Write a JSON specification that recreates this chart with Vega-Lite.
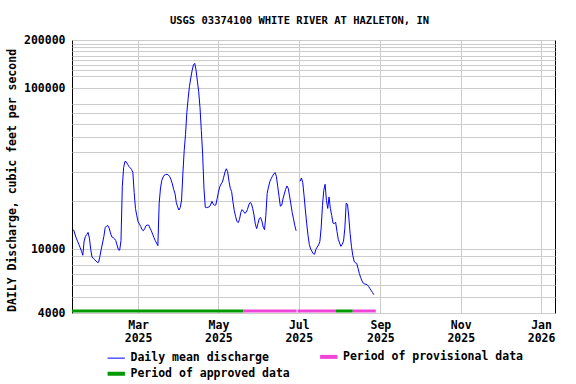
{
"$schema": "https://vega.github.io/schema/vega-lite/v6.json",
"width": 483, "height": 273,
"autosize": {"type": "none"},
"padding": {"left": 72, "top": 40, "right": 21, "bottom": 71},
"background": "white",
"title": {"text": "USGS 03374100 WHITE RIVER AT HAZLETON, IN", "font": "DejaVu Sans Mono", "fontSize": 10.5, "fontWeight": "bold", "color": "black", "anchor": "middle", "dx": -14, "offset": 8},
"config": {"view": {"stroke": "black", "strokeWidth": 1}, "font": "DejaVu Sans Mono"},
"datasets": {
"periods": [
{"start": "2025-01-09T19:00:00Z", "end": "2025-05-20T00:00:00Z", "series": "Period of approved data"},
{"start": "2025-05-20T00:00:00Z", "end": "2025-06-29T08:00:00Z", "series": "Period of provisional data"},
{"start": "2025-06-30T04:00:00Z", "end": "2025-07-29T06:00:00Z", "series": "Period of provisional data"},
{"start": "2025-07-29T06:00:00Z", "end": "2025-08-11T00:00:00Z", "series": "Period of approved data"},
{"start": "2025-08-11T00:00:00Z", "end": "2025-08-28T12:00:00Z", "series": "Period of provisional data"}
],
"flow": [
{"date":"2025-01-11","cfs":13200,"seg":1,"series":"Daily mean discharge"},{"date":"2025-01-12","cfs":12400,"seg":1,"series":"Daily mean discharge"},{"date":"2025-01-13","cfs":11700,"seg":1,"series":"Daily mean discharge"},{"date":"2025-01-14","cfs":11200,"seg":1,"series":"Daily mean discharge"},{"date":"2025-01-15","cfs":10700,"seg":1,"series":"Daily mean discharge"},{"date":"2025-01-16","cfs":10200,"seg":1,"series":"Daily mean discharge"},{"date":"2025-01-17","cfs":9690,"seg":1,"series":"Daily mean discharge"},{"date":"2025-01-18","cfs":9150,"seg":1,"series":"Daily mean discharge"},{"date":"2025-01-19","cfs":11200,"seg":1,"series":"Daily mean discharge"},{"date":"2025-01-20","cfs":12000,"seg":1,"series":"Daily mean discharge"},
{"date":"2025-01-21","cfs":12300,"seg":1,"series":"Daily mean discharge"},{"date":"2025-01-22","cfs":12700,"seg":1,"series":"Daily mean discharge"},{"date":"2025-01-23","cfs":11700,"seg":1,"series":"Daily mean discharge"},{"date":"2025-01-24","cfs":9970,"seg":1,"series":"Daily mean discharge"},{"date":"2025-01-25","cfs":8890,"seg":1,"series":"Daily mean discharge"},{"date":"2025-01-26","cfs":8770,"seg":1,"series":"Daily mean discharge"},{"date":"2025-01-27","cfs":8580,"seg":1,"series":"Daily mean discharge"},{"date":"2025-01-28","cfs":8430,"seg":1,"series":"Daily mean discharge"},{"date":"2025-01-29","cfs":8260,"seg":1,"series":"Daily mean discharge"},{"date":"2025-01-30","cfs":8280,"seg":1,"series":"Daily mean discharge"},
{"date":"2025-01-31","cfs":9020,"seg":1,"series":"Daily mean discharge"},{"date":"2025-02-01","cfs":9970,"seg":1,"series":"Daily mean discharge"},{"date":"2025-02-02","cfs":10900,"seg":1,"series":"Daily mean discharge"},{"date":"2025-02-03","cfs":12000,"seg":1,"series":"Daily mean discharge"},{"date":"2025-02-04","cfs":13600,"seg":1,"series":"Daily mean discharge"},{"date":"2025-02-05","cfs":13900,"seg":1,"series":"Daily mean discharge"},{"date":"2025-02-06","cfs":14000,"seg":1,"series":"Daily mean discharge"},{"date":"2025-02-07","cfs":13500,"seg":1,"series":"Daily mean discharge"},{"date":"2025-02-08","cfs":12600,"seg":1,"series":"Daily mean discharge"},{"date":"2025-02-09","cfs":11900,"seg":1,"series":"Daily mean discharge"},
{"date":"2025-02-10","cfs":11800,"seg":1,"series":"Daily mean discharge"},{"date":"2025-02-11","cfs":11600,"seg":1,"series":"Daily mean discharge"},{"date":"2025-02-12","cfs":11300,"seg":1,"series":"Daily mean discharge"},{"date":"2025-02-13","cfs":10600,"seg":1,"series":"Daily mean discharge"},{"date":"2025-02-14","cfs":9900,"seg":1,"series":"Daily mean discharge"},{"date":"2025-02-15","cfs":9830,"seg":1,"series":"Daily mean discharge"},{"date":"2025-02-16","cfs":11300,"seg":1,"series":"Daily mean discharge"},{"date":"2025-02-17","cfs":24600,"seg":1,"series":"Daily mean discharge"},{"date":"2025-02-18","cfs":32200,"seg":1,"series":"Daily mean discharge"},{"date":"2025-02-19","cfs":35100,"seg":1,"series":"Daily mean discharge"},
{"date":"2025-02-20","cfs":34900,"seg":1,"series":"Daily mean discharge"},{"date":"2025-02-21","cfs":33700,"seg":1,"series":"Daily mean discharge"},{"date":"2025-02-22","cfs":32700,"seg":1,"series":"Daily mean discharge"},{"date":"2025-02-23","cfs":32000,"seg":1,"series":"Daily mean discharge"},{"date":"2025-02-24","cfs":31300,"seg":1,"series":"Daily mean discharge"},{"date":"2025-02-25","cfs":30000,"seg":1,"series":"Daily mean discharge"},{"date":"2025-02-26","cfs":22500,"seg":1,"series":"Daily mean discharge"},{"date":"2025-02-27","cfs":17900,"seg":1,"series":"Daily mean discharge"},{"date":"2025-02-28","cfs":16100,"seg":1,"series":"Daily mean discharge"},{"date":"2025-03-01","cfs":14800,"seg":1,"series":"Daily mean discharge"},
{"date":"2025-03-02","cfs":14300,"seg":1,"series":"Daily mean discharge"},{"date":"2025-03-03","cfs":13800,"seg":1,"series":"Daily mean discharge"},{"date":"2025-03-04","cfs":13200,"seg":1,"series":"Daily mean discharge"},{"date":"2025-03-05","cfs":13000,"seg":1,"series":"Daily mean discharge"},{"date":"2025-03-06","cfs":13400,"seg":1,"series":"Daily mean discharge"},{"date":"2025-03-07","cfs":14000,"seg":1,"series":"Daily mean discharge"},{"date":"2025-03-08","cfs":14100,"seg":1,"series":"Daily mean discharge"},{"date":"2025-03-09","cfs":14100,"seg":1,"series":"Daily mean discharge"},{"date":"2025-03-10","cfs":13500,"seg":1,"series":"Daily mean discharge"},{"date":"2025-03-11","cfs":13000,"seg":1,"series":"Daily mean discharge"},
{"date":"2025-03-12","cfs":12400,"seg":1,"series":"Daily mean discharge"},{"date":"2025-03-13","cfs":11800,"seg":1,"series":"Daily mean discharge"},{"date":"2025-03-14","cfs":11300,"seg":1,"series":"Daily mean discharge"},{"date":"2025-03-15","cfs":10900,"seg":1,"series":"Daily mean discharge"},{"date":"2025-03-16","cfs":10500,"seg":1,"series":"Daily mean discharge"},{"date":"2025-03-17","cfs":19300,"seg":1,"series":"Daily mean discharge"},{"date":"2025-03-18","cfs":24000,"seg":1,"series":"Daily mean discharge"},{"date":"2025-03-19","cfs":26800,"seg":1,"series":"Daily mean discharge"},{"date":"2025-03-20","cfs":28100,"seg":1,"series":"Daily mean discharge"},{"date":"2025-03-21","cfs":28900,"seg":1,"series":"Daily mean discharge"},
{"date":"2025-03-22","cfs":29100,"seg":1,"series":"Daily mean discharge"},{"date":"2025-03-23","cfs":29200,"seg":1,"series":"Daily mean discharge"},{"date":"2025-03-24","cfs":28900,"seg":1,"series":"Daily mean discharge"},{"date":"2025-03-25","cfs":28200,"seg":1,"series":"Daily mean discharge"},{"date":"2025-03-26","cfs":27000,"seg":1,"series":"Daily mean discharge"},{"date":"2025-03-27","cfs":25500,"seg":1,"series":"Daily mean discharge"},{"date":"2025-03-28","cfs":23500,"seg":1,"series":"Daily mean discharge"},{"date":"2025-03-29","cfs":22200,"seg":1,"series":"Daily mean discharge"},{"date":"2025-03-30","cfs":19500,"seg":1,"series":"Daily mean discharge"},{"date":"2025-03-31","cfs":18300,"seg":1,"series":"Daily mean discharge"},
{"date":"2025-04-01","cfs":17500,"seg":1,"series":"Daily mean discharge"},{"date":"2025-04-02","cfs":18100,"seg":1,"series":"Daily mean discharge"},{"date":"2025-04-03","cfs":20200,"seg":1,"series":"Daily mean discharge"},{"date":"2025-04-04","cfs":29600,"seg":1,"series":"Daily mean discharge"},{"date":"2025-04-05","cfs":41100,"seg":1,"series":"Daily mean discharge"},{"date":"2025-04-06","cfs":51700,"seg":1,"series":"Daily mean discharge"},{"date":"2025-04-07","cfs":70800,"seg":1,"series":"Daily mean discharge"},{"date":"2025-04-08","cfs":86600,"seg":1,"series":"Daily mean discharge"},{"date":"2025-04-09","cfs":103000,"seg":1,"series":"Daily mean discharge"},{"date":"2025-04-10","cfs":116000,"seg":1,"series":"Daily mean discharge"},
{"date":"2025-04-11","cfs":129000,"seg":1,"series":"Daily mean discharge"},{"date":"2025-04-12","cfs":140000,"seg":1,"series":"Daily mean discharge"},{"date":"2025-04-13","cfs":143000,"seg":1,"series":"Daily mean discharge"},{"date":"2025-04-14","cfs":130000,"seg":1,"series":"Daily mean discharge"},{"date":"2025-04-15","cfs":111000,"seg":1,"series":"Daily mean discharge"},{"date":"2025-04-16","cfs":95300,"seg":1,"series":"Daily mean discharge"},{"date":"2025-04-17","cfs":75800,"seg":1,"series":"Daily mean discharge"},{"date":"2025-04-18","cfs":54700,"seg":1,"series":"Daily mean discharge"},{"date":"2025-04-19","cfs":39000,"seg":1,"series":"Daily mean discharge"},{"date":"2025-04-20","cfs":23900,"seg":1,"series":"Daily mean discharge"},
{"date":"2025-04-21","cfs":18200,"seg":1,"series":"Daily mean discharge"},{"date":"2025-04-22","cfs":18100,"seg":1,"series":"Daily mean discharge"},{"date":"2025-04-23","cfs":18200,"seg":1,"series":"Daily mean discharge"},{"date":"2025-04-24","cfs":18300,"seg":1,"series":"Daily mean discharge"},{"date":"2025-04-25","cfs":18800,"seg":1,"series":"Daily mean discharge"},{"date":"2025-04-26","cfs":19800,"seg":1,"series":"Daily mean discharge"},{"date":"2025-04-27","cfs":19100,"seg":1,"series":"Daily mean discharge"},{"date":"2025-04-28","cfs":18700,"seg":1,"series":"Daily mean discharge"},{"date":"2025-04-29","cfs":18800,"seg":1,"series":"Daily mean discharge"},{"date":"2025-04-30","cfs":20600,"seg":1,"series":"Daily mean discharge"},
{"date":"2025-05-01","cfs":22600,"seg":1,"series":"Daily mean discharge"},{"date":"2025-05-02","cfs":24400,"seg":1,"series":"Daily mean discharge"},{"date":"2025-05-03","cfs":25400,"seg":1,"series":"Daily mean discharge"},{"date":"2025-05-04","cfs":26100,"seg":1,"series":"Daily mean discharge"},{"date":"2025-05-05","cfs":28000,"seg":1,"series":"Daily mean discharge"},{"date":"2025-05-06","cfs":30200,"seg":1,"series":"Daily mean discharge"},{"date":"2025-05-07","cfs":31600,"seg":1,"series":"Daily mean discharge"},{"date":"2025-05-08","cfs":30300,"seg":1,"series":"Daily mean discharge"},{"date":"2025-05-09","cfs":26400,"seg":1,"series":"Daily mean discharge"},{"date":"2025-05-10","cfs":23900,"seg":1,"series":"Daily mean discharge"},
{"date":"2025-05-11","cfs":22800,"seg":1,"series":"Daily mean discharge"},{"date":"2025-05-12","cfs":19700,"seg":1,"series":"Daily mean discharge"},{"date":"2025-05-13","cfs":17400,"seg":1,"series":"Daily mean discharge"},{"date":"2025-05-14","cfs":16000,"seg":1,"series":"Daily mean discharge"},{"date":"2025-05-15","cfs":14900,"seg":1,"series":"Daily mean discharge"},{"date":"2025-05-16","cfs":14600,"seg":1,"series":"Daily mean discharge"},{"date":"2025-05-17","cfs":15300,"seg":1,"series":"Daily mean discharge"},{"date":"2025-05-18","cfs":16900,"seg":1,"series":"Daily mean discharge"},{"date":"2025-05-19","cfs":17600,"seg":1,"series":"Daily mean discharge"},{"date":"2025-05-20","cfs":17200,"seg":1,"series":"Daily mean discharge"},
{"date":"2025-05-21","cfs":16700,"seg":1,"series":"Daily mean discharge"},{"date":"2025-05-22","cfs":16900,"seg":1,"series":"Daily mean discharge"},{"date":"2025-05-23","cfs":17600,"seg":1,"series":"Daily mean discharge"},{"date":"2025-05-24","cfs":18800,"seg":1,"series":"Daily mean discharge"},{"date":"2025-05-25","cfs":19500,"seg":1,"series":"Daily mean discharge"},{"date":"2025-05-26","cfs":19200,"seg":1,"series":"Daily mean discharge"},{"date":"2025-05-27","cfs":17900,"seg":1,"series":"Daily mean discharge"},{"date":"2025-05-28","cfs":16300,"seg":1,"series":"Daily mean discharge"},{"date":"2025-05-29","cfs":14300,"seg":1,"series":"Daily mean discharge"},{"date":"2025-05-30","cfs":13400,"seg":1,"series":"Daily mean discharge"},
{"date":"2025-05-31","cfs":14400,"seg":1,"series":"Daily mean discharge"},{"date":"2025-06-01","cfs":15500,"seg":1,"series":"Daily mean discharge"},{"date":"2025-06-02","cfs":15700,"seg":1,"series":"Daily mean discharge"},{"date":"2025-06-03","cfs":14900,"seg":1,"series":"Daily mean discharge"},{"date":"2025-06-04","cfs":13700,"seg":1,"series":"Daily mean discharge"},{"date":"2025-06-05","cfs":13200,"seg":1,"series":"Daily mean discharge"},{"date":"2025-06-06","cfs":16200,"seg":1,"series":"Daily mean discharge"},{"date":"2025-06-07","cfs":22200,"seg":1,"series":"Daily mean discharge"},{"date":"2025-06-08","cfs":24300,"seg":1,"series":"Daily mean discharge"},{"date":"2025-06-09","cfs":26200,"seg":1,"series":"Daily mean discharge"},
{"date":"2025-06-10","cfs":27400,"seg":1,"series":"Daily mean discharge"},{"date":"2025-06-11","cfs":28400,"seg":1,"series":"Daily mean discharge"},{"date":"2025-06-12","cfs":29300,"seg":1,"series":"Daily mean discharge"},{"date":"2025-06-13","cfs":29900,"seg":1,"series":"Daily mean discharge"},{"date":"2025-06-14","cfs":28300,"seg":1,"series":"Daily mean discharge"},{"date":"2025-06-15","cfs":24600,"seg":1,"series":"Daily mean discharge"},{"date":"2025-06-16","cfs":21300,"seg":1,"series":"Daily mean discharge"},{"date":"2025-06-17","cfs":18500,"seg":1,"series":"Daily mean discharge"},{"date":"2025-06-18","cfs":18700,"seg":1,"series":"Daily mean discharge"},{"date":"2025-06-19","cfs":20500,"seg":1,"series":"Daily mean discharge"},
{"date":"2025-06-20","cfs":22000,"seg":1,"series":"Daily mean discharge"},{"date":"2025-06-21","cfs":23500,"seg":1,"series":"Daily mean discharge"},{"date":"2025-06-22","cfs":24700,"seg":1,"series":"Daily mean discharge"},{"date":"2025-06-23","cfs":23900,"seg":1,"series":"Daily mean discharge"},{"date":"2025-06-24","cfs":21400,"seg":1,"series":"Daily mean discharge"},{"date":"2025-06-25","cfs":19100,"seg":1,"series":"Daily mean discharge"},{"date":"2025-06-26","cfs":16900,"seg":1,"series":"Daily mean discharge"},{"date":"2025-06-27","cfs":15400,"seg":1,"series":"Daily mean discharge"},{"date":"2025-06-28","cfs":14000,"seg":1,"series":"Daily mean discharge"},{"date":"2025-06-29","cfs":13000,"seg":1,"series":"Daily mean discharge"},
{"date":"2025-07-02","cfs":26400,"seg":2,"series":"Daily mean discharge"},{"date":"2025-07-03","cfs":27700,"seg":2,"series":"Daily mean discharge"},{"date":"2025-07-04","cfs":26000,"seg":2,"series":"Daily mean discharge"},{"date":"2025-07-05","cfs":21600,"seg":2,"series":"Daily mean discharge"},{"date":"2025-07-06","cfs":17500,"seg":2,"series":"Daily mean discharge"},{"date":"2025-07-07","cfs":14500,"seg":2,"series":"Daily mean discharge"},{"date":"2025-07-08","cfs":12200,"seg":2,"series":"Daily mean discharge"},{"date":"2025-07-09","cfs":10700,"seg":2,"series":"Daily mean discharge"},{"date":"2025-07-10","cfs":10000,"seg":2,"series":"Daily mean discharge"},{"date":"2025-07-11","cfs":9700,"seg":2,"series":"Daily mean discharge"},
{"date":"2025-07-12","cfs":9360,"seg":2,"series":"Daily mean discharge"},{"date":"2025-07-13","cfs":9280,"seg":2,"series":"Daily mean discharge"},{"date":"2025-07-14","cfs":9960,"seg":2,"series":"Daily mean discharge"},{"date":"2025-07-15","cfs":10300,"seg":2,"series":"Daily mean discharge"},{"date":"2025-07-16","cfs":10600,"seg":2,"series":"Daily mean discharge"},{"date":"2025-07-17","cfs":11100,"seg":2,"series":"Daily mean discharge"},{"date":"2025-07-18","cfs":13500,"seg":2,"series":"Daily mean discharge"},{"date":"2025-07-19","cfs":18700,"seg":2,"series":"Daily mean discharge"},{"date":"2025-07-20","cfs":23200,"seg":2,"series":"Daily mean discharge"},{"date":"2025-07-21","cfs":25300,"seg":2,"series":"Daily mean discharge"},
{"date":"2025-07-22","cfs":20100,"seg":2,"series":"Daily mean discharge"},{"date":"2025-07-23","cfs":17900,"seg":2,"series":"Daily mean discharge"},{"date":"2025-07-24","cfs":21100,"seg":2,"series":"Daily mean discharge"},{"date":"2025-07-25","cfs":17900,"seg":2,"series":"Daily mean discharge"},{"date":"2025-07-26","cfs":16200,"seg":2,"series":"Daily mean discharge"},{"date":"2025-07-27","cfs":14500,"seg":2,"series":"Daily mean discharge"},{"date":"2025-07-28","cfs":14400,"seg":2,"series":"Daily mean discharge"},{"date":"2025-07-29","cfs":14700,"seg":2,"series":"Daily mean discharge"},{"date":"2025-07-30","cfs":12900,"seg":2,"series":"Daily mean discharge"},{"date":"2025-07-31","cfs":11500,"seg":2,"series":"Daily mean discharge"},
{"date":"2025-08-01","cfs":10900,"seg":2,"series":"Daily mean discharge"},{"date":"2025-08-02","cfs":10400,"seg":2,"series":"Daily mean discharge"},{"date":"2025-08-03","cfs":10700,"seg":2,"series":"Daily mean discharge"},{"date":"2025-08-04","cfs":11200,"seg":2,"series":"Daily mean discharge"},{"date":"2025-08-05","cfs":13500,"seg":2,"series":"Daily mean discharge"},{"date":"2025-08-06","cfs":19300,"seg":2,"series":"Daily mean discharge"},{"date":"2025-08-07","cfs":19000,"seg":2,"series":"Daily mean discharge"},{"date":"2025-08-08","cfs":15800,"seg":2,"series":"Daily mean discharge"},{"date":"2025-08-09","cfs":12500,"seg":2,"series":"Daily mean discharge"},{"date":"2025-08-10","cfs":10400,"seg":2,"series":"Daily mean discharge"},
{"date":"2025-08-11","cfs":9150,"seg":2,"series":"Daily mean discharge"},{"date":"2025-08-12","cfs":8420,"seg":2,"series":"Daily mean discharge"},{"date":"2025-08-13","cfs":8200,"seg":2,"series":"Daily mean discharge"},{"date":"2025-08-14","cfs":8140,"seg":2,"series":"Daily mean discharge"},{"date":"2025-08-15","cfs":7600,"seg":2,"series":"Daily mean discharge"},{"date":"2025-08-16","cfs":7040,"seg":2,"series":"Daily mean discharge"},{"date":"2025-08-17","cfs":6650,"seg":2,"series":"Daily mean discharge"},{"date":"2025-08-18","cfs":6330,"seg":2,"series":"Daily mean discharge"},{"date":"2025-08-19","cfs":6140,"seg":2,"series":"Daily mean discharge"},{"date":"2025-08-20","cfs":6070,"seg":2,"series":"Daily mean discharge"},
{"date":"2025-08-21","cfs":6040,"seg":2,"series":"Daily mean discharge"},{"date":"2025-08-22","cfs":5990,"seg":2,"series":"Daily mean discharge"},{"date":"2025-08-23","cfs":5860,"seg":2,"series":"Daily mean discharge"},{"date":"2025-08-24","cfs":5670,"seg":2,"series":"Daily mean discharge"},{"date":"2025-08-25","cfs":5520,"seg":2,"series":"Daily mean discharge"},{"date":"2025-08-26","cfs":5370,"seg":2,"series":"Daily mean discharge"},{"date":"2025-08-27","cfs":5200,"seg":2,"series":"Daily mean discharge"}
]
},
"layer": [
{
"data": {"name": "periods"},
"mark": {"type": "rule", "strokeWidth": 3, "yOffset": -2},
"encoding": {
"x": {"field": "start", "type": "temporal"},
"x2": {"field": "end"},
"y": {"datum": 4000, "type": "quantitative"},
"color": {"field": "series", "type": "nominal",
"sort": ["Daily mean discharge", "Period of provisional data", "Period of approved data"],
"scale": {"domain": ["Daily mean discharge", "Period of provisional data", "Period of approved data"], "range": ["#0000ff", "#f046d8", "#009900"]},
"legend": {"title": null, "orient": "none", "direction": "horizontal", "legendX": 38.5, "legendY": 311, "columns": 2, "columnPadding": 21.5, "rowPadding": 0, "padding": 0,
"symbolType": "stroke", "symbolSize": 300, "symbolStrokeWidth": 4, "labelOffset": 8.5, "labelLimit": 300,
"labelFont": "DejaVu Sans Mono", "labelFontSize": 11.5, "labelFontWeight": "bold", "labelColor": "black",
"encode": {"symbols": {"update": {"strokeWidth": {"signal": "datum.value === 'Daily mean discharge' ? 1 : 4"}}}}}}
}
},
{
"data": {"name": "flow"},
"mark": {"type": "line", "strokeWidth": 1, "clip": true},
"encoding": {
"x": {"field": "date", "type": "temporal",
"scale": {"type": "utc", "domain": [{"year": 2025, "month": 1, "date": 9, "hours": 19, "utc": true}, {"year": 2026, "month": 1, "date": 11, "hours": 14, "utc": true}]},
"axis": {"title": null, "values": [{"year": 2025, "month": 3, "date": 1, "utc": true}, {"year": 2025, "month": 5, "date": 1, "utc": true}, {"year": 2025, "month": 7, "date": 1, "utc": true}, {"year": 2025, "month": 9, "date": 1, "utc": true}, {"year": 2025, "month": 11, "date": 1, "utc": true}, {"year": 2026, "month": 1, "date": 1, "utc": true}],
"labelExpr": "[utcFormat(datum.value, '%b'), utcFormat(datum.value, '%Y')]",
"labelFont": "DejaVu Sans Mono", "labelFontSize": 11.5, "labelFontWeight": "bold", "labelColor": "black", "labelLineHeight": 13, "labelPadding": 6, "labelFlush": false, "labelOverlap": false, "labelBound": false,
"ticks": false, "domain": false, "grid": true, "gridColor": "#cccccc", "gridWidth": 1}},
"y": {"field": "cfs", "type": "quantitative",
"scale": {"type": "log", "domain": [4000, 200000], "nice": false},
"axis": {"title": "DAILY Discharge, cubic feet per second", "titleFont": "DejaVu Sans Mono", "titleFontSize": 11.5, "titleFontWeight": "bold", "titleColor": "black", "titlePadding": 6, "titleY": 140,
"values": [4000, 5000, 6000, 7000, 8000, 9000, 10000, 20000, 30000, 40000, 50000, 60000, 70000, 80000, 100000, 120000, 130000, 140000, 150000, 160000, 170000, 180000, 190000, 200000],
"labelExpr": "(datum.value == 4000 || datum.value == 10000 || datum.value == 100000 || datum.value == 200000) ? format(datum.value, 'd') : ''",
"labelFont": "DejaVu Sans Mono", "labelFontSize": 11.5, "labelFontWeight": "bold", "labelColor": "black", "labelPadding": 7, "labelOverlap": false, "labelBound": false, "labelFlush": false,
"ticks": false, "domain": false, "grid": true, "gridColor": "#cccccc", "gridWidth": 1}},
"detail": {"field": "seg", "type": "nominal"},
"color": {"field": "series", "type": "nominal",
"sort": ["Daily mean discharge", "Period of provisional data", "Period of approved data"],
"scale": {"domain": ["Daily mean discharge", "Period of provisional data", "Period of approved data"], "range": ["#0000ff", "#f046d8", "#009900"]},
"legend": {"title": null, "orient": "none", "direction": "horizontal", "legendX": 38.5, "legendY": 311, "columns": 2, "columnPadding": 21.5, "rowPadding": 0, "padding": 0,
"symbolType": "stroke", "symbolSize": 300, "symbolStrokeWidth": 4, "labelOffset": 8.5, "labelLimit": 300,
"labelFont": "DejaVu Sans Mono", "labelFontSize": 11.5, "labelFontWeight": "bold", "labelColor": "black",
"encode": {"symbols": {"update": {"strokeWidth": {"signal": "datum.value === 'Daily mean discharge' ? 1 : 4"}}}}}}
}
}
]
}
